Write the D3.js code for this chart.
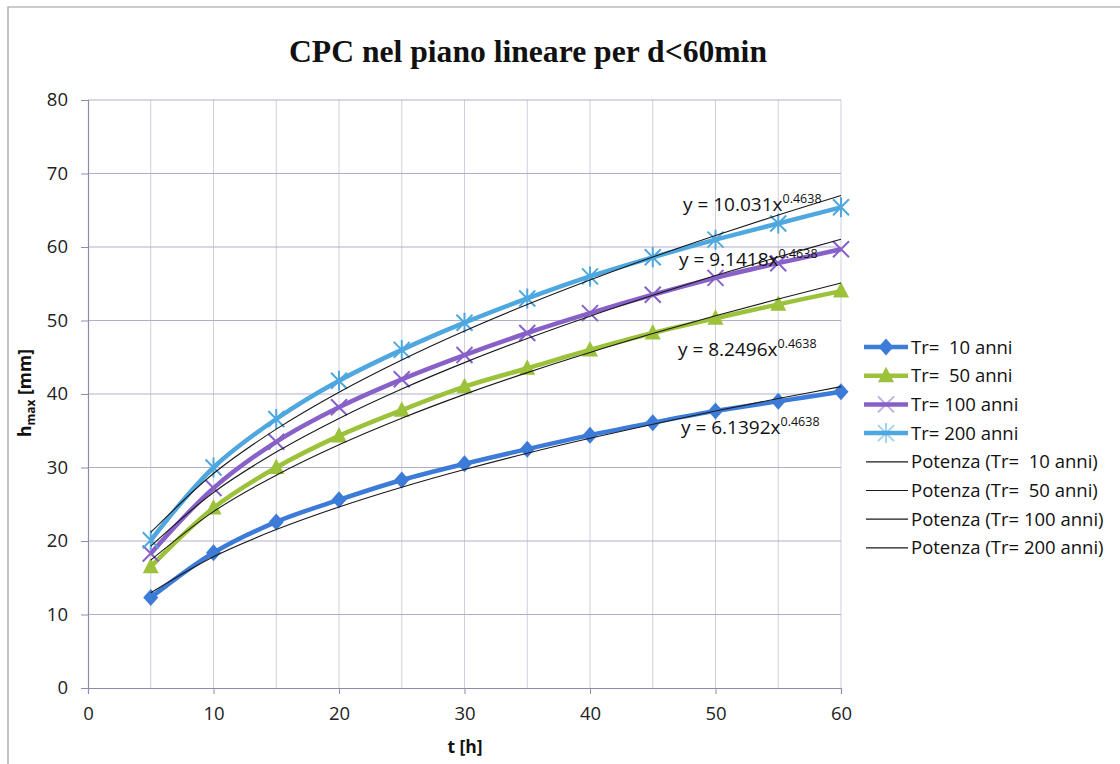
<!DOCTYPE html>
<html>
<head>
<meta charset="utf-8">
<script src="https://cdn.jsdelivr.net/npm/d3@7"></script>
<style>
  body { margin: 0; background: #fff; }
  svg text { white-space: pre; }
</style>
</head>
<body>
<div id="chart"></div>
<script>
// durations t [h]
var durations = [5, 10, 15, 20, 25, 30, 35, 40, 45, 50, 55, 60];

var tr10  = [12.3, 18.4, 22.6, 25.6, 28.3, 30.5, 32.5, 34.4, 36.1, 37.7, 39.0, 40.3];
var tr50  = [16.5, 24.5, 30.0, 34.3, 37.8, 41.0, 43.5, 46.0, 48.3, 50.3, 52.2, 54.0];
var tr100 = [18.3, 27.2, 33.5, 38.2, 42.0, 45.3, 48.3, 51.0, 53.5, 55.8, 57.8, 59.7];
var tr200 = [20.1, 30.0, 36.6, 41.8, 46.0, 49.7, 53.0, 56.0, 58.6, 61.0, 63.2, 65.4];

// power trendline values at the same durations
var fit10  = [12.95, 17.86, 21.55, 24.63, 27.32, 29.73, 31.94, 33.97, 35.88, 37.68, 39.38, 41.00];
var fit50  = [17.40, 24.00, 28.96, 33.10, 36.71, 39.95, 42.91, 45.65, 48.22, 50.64, 52.92, 55.10];
var fit100 = [19.29, 26.60, 32.10, 36.68, 40.68, 44.27, 47.55, 50.59, 53.43, 56.11, 58.65, 61.06];
var fit200 = [21.16, 29.18, 35.22, 40.25, 44.64, 48.58, 52.18, 55.51, 58.63, 61.57, 64.35, 67.00];

var seriesNames = ["Tr=  10 anni", "Tr=  50 anni", "Tr= 100 anni", "Tr= 200 anni"];
var trendNames = ["Potenza (Tr=  10 anni)", "Potenza (Tr=  50 anni)", "Potenza (Tr= 100 anni)", "Potenza (Tr= 200 anni)"];
var coeffs = ["6.1392", "8.2496", "9.1418", "10.031"];
var exponent = "0.4638";

var xTicks = [0, 10, 20, 30, 40, 50, 60];
var yTicks = [0, 10, 20, 30, 40, 50, 60, 70, 80];

var W = 1120, H = 764;
var svg = d3.select("#chart").append("svg")
    .attr("width", W).attr("height", H);

// chart frame
svg.append("path")
    .attr("d", "M8," + H + "V7H" + W)
    .attr("fill", "none").attr("stroke", "#9a9a9a").attr("stroke-width", 1.2);

var x = d3.scaleLinear().domain([0, 60]).range([88, 841]);
var y = d3.scaleLinear().domain([0, 80]).range([688, 100]);

var grid = svg.append("g");
grid.selectAll("line.v").data(d3.range(5, 61, 5)).join("line")
    .attr("x1", d => x(d)).attr("x2", d => x(d))
    .attr("y1", y(0)).attr("y2", y(80))
    .attr("stroke", "#cfcfdf").attr("stroke-width", 1);
grid.selectAll("line.h").data(yTicks.slice(1)).join("line")
    .attr("x1", x(0)).attr("x2", x(60))
    .attr("y1", d => y(d)).attr("y2", d => y(d))
    .attr("stroke", "#afafcb").attr("stroke-width", 1.2);

var tickFont = "'Open Sans', 'DejaVu Sans Condensed', sans-serif";

var xAxis = svg.append("g").attr("transform", "translate(0," + y(0) + ")")
    .call(d3.axisBottom(x).tickValues(xTicks).tickSize(6).tickPadding(13));
var yAxis = svg.append("g").attr("transform", "translate(" + x(0) + ",0)")
    .call(d3.axisLeft(y).tickValues(yTicks).tickSize(7).tickPadding(13));
[xAxis, yAxis].forEach(function (g) {
  g.select(".domain").attr("stroke", "#8c8cae").attr("stroke-width", 1.2);
  g.selectAll(".tick line").attr("stroke", "#8c8cae");
  g.selectAll("text").attr("font-family", tickFont).attr("font-size", 18.5).attr("fill", "#222");
});

// title and axis labels
svg.append("text").attr("x", 528).attr("y", 62).attr("text-anchor", "middle")
    .attr("font-family", "'Liberation Serif', serif").attr("font-weight", "bold")
    .attr("font-size", 31).attr("fill", "#111")
    .attr("textLength", 478).attr("lengthAdjust", "spacingAndGlyphs")
    .text("CPC nel piano lineare per d<60min");

svg.append("text").attr("x", 465).attr("y", 753).attr("text-anchor", "middle")
    .attr("font-family", tickFont).attr("font-weight", "bold")
    .attr("font-size", 17.5).attr("fill", "#111").text("t [h]");

var yl = svg.append("text").attr("transform", "translate(31,393) rotate(-90)")
    .attr("text-anchor", "middle")
    .attr("font-family", tickFont).attr("font-weight", "bold")
    .attr("font-size", 17.5).attr("fill", "#111");
yl.append("tspan").text("h");
yl.append("tspan").attr("font-size", 12).attr("dy", 4).text("max");
yl.append("tspan").attr("dy", -4).text(" [mm]");

var colors = ["#3d7bd9", "#9cc13a", "#8760c8", "#4ea7df"];
var data = [tr10, tr50, tr100, tr200];
var fits = [fit10, fit50, fit100, fit200];

var line = d3.line()
    .x((d, i) => x(durations[i]))
    .y(d => y(d))
    .curve(d3.curveCatmullRom.alpha(0.5));

// markers
function marker(g, k, cx, cy, c) {
  if (k === 0) {
    g.append("path").attr("d", "M0,-8.5L7.5,0L0,8.5L-7.5,0Z")
      .attr("transform", "translate(" + cx + "," + cy + ")").attr("fill", c);
  } else if (k === 1) {
    g.append("path").attr("d", "M0,-9L8,6.5L-8,6.5Z")
      .attr("transform", "translate(" + cx + "," + cy + ")").attr("fill", c);
  } else {
    var r = 8;
    var p = "M" + (-r) + "," + (-r) + "L" + r + "," + r + "M" + r + "," + (-r) + "L" + (-r) + "," + r;
    if (k === 3) p += "M0," + (-r - 2) + "L0," + (r + 2);
    g.append("path").attr("d", p)
      .attr("transform", "translate(" + cx + "," + cy + ")")
      .attr("stroke", c).attr("stroke-width", 2).attr("fill", "none");
  }
}

data.forEach(function (vals, k) {
  svg.append("path").datum(vals).attr("d", line)
    .attr("fill", "none").attr("stroke", colors[k]).attr("stroke-width", 4.5)
    .attr("stroke-linejoin", "round");
  var mg = svg.append("g");
  vals.forEach(function (v, i) { marker(mg, k, x(durations[i]), y(v), colors[k]); });
});

fits.forEach(function (vals) {
  svg.append("path").datum(vals).attr("d", line)
    .attr("fill", "none").attr("stroke", "#1a1a1a").attr("stroke-width", 1.1);
});

// equation labels
var eqPos = [[681, 434], [678, 356], [679, 266], [683, 211]];
coeffs.forEach(function (c, k) {
  var t = svg.append("text").attr("x", eqPos[k][0]).attr("y", eqPos[k][1])
    .attr("font-family", tickFont).attr("font-size", 19).attr("fill", "#111");
  t.append("tspan").text("y = " + c + "x");
  t.append("tspan").attr("font-size", 12.5).attr("dy", -8).text(exponent);
});

// legend
var legend = svg.append("g");
var rowY = d3.range(8).map(i => 347 + i * 28.7);
seriesNames.forEach(function (name, k) {
  var ly = rowY[k];
  legend.append("line").attr("x1", 864).attr("x2", 908).attr("y1", ly).attr("y2", ly)
    .attr("stroke", colors[k]).attr("stroke-width", 4.5);
  var mg = legend.append("g").attr("opacity", k >= 2 ? 0.5 : 1);
  marker(mg, k, 886, ly, colors[k]);
  legend.append("text").attr("x", 911).attr("y", ly + 6.5)
    .attr("font-family", tickFont).attr("font-size", 18.5).attr("fill", "#111").text(name);
});
trendNames.forEach(function (name, k) {
  var ly = rowY[k + 4];
  legend.append("line").attr("x1", 866).attr("x2", 908).attr("y1", ly).attr("y2", ly)
    .attr("stroke", "#1a1a1a").attr("stroke-width", 1.2);
  legend.append("text").attr("x", 911).attr("y", ly + 6.5)
    .attr("font-family", tickFont).attr("font-size", 18.5).attr("fill", "#111").text(name);
});
</script>
</body>
</html>
